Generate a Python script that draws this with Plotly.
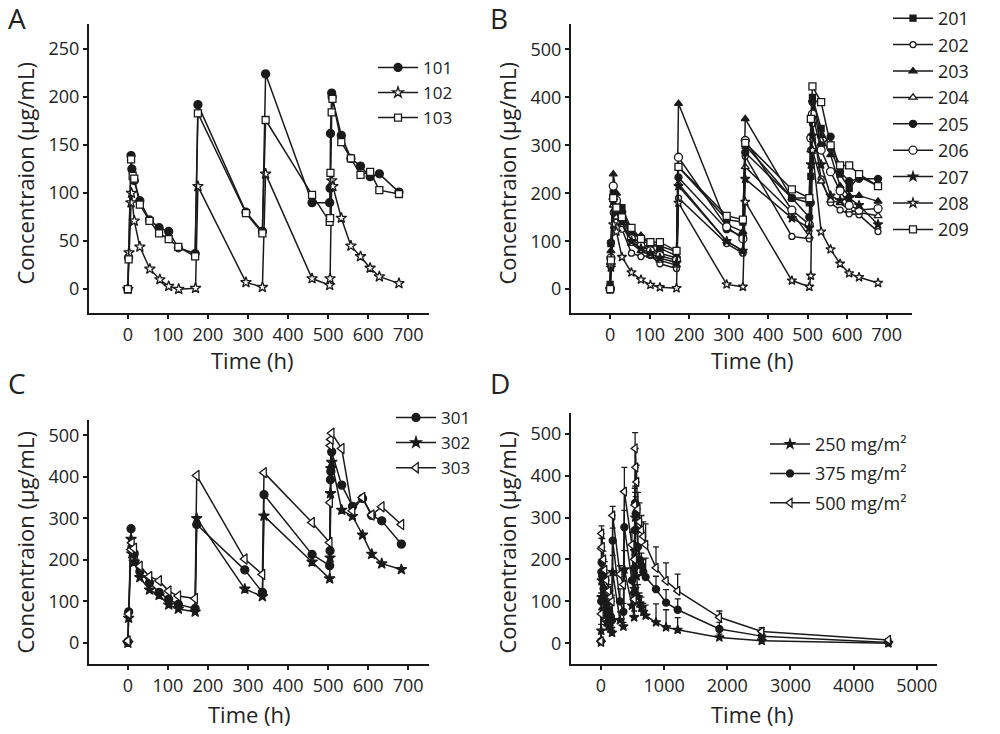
import plotly.graph_objects as go

# ---------------- Panel A ----------------
t101 = [0, 2, 8, 10, 16, 30, 54, 78, 102, 126, 168, 175, 295, 336, 344, 460, 504, 505, 506, 509, 510, 533, 557, 581, 605, 628, 677]
c101 = [0, 33, 139, 125, 113, 92, 72, 64, 60, 43, 37, 192, 80, 60, 224, 90, 90, 105, 162, 204, 200, 160, 136, 128, 117, 120, 101]
t102 = [0, 3, 8, 9, 16, 30, 55, 80, 102, 127, 169, 175, 295, 336, 344, 460, 504, 505, 509, 512, 533, 557, 581, 605, 628, 677]
c102 = [0, 38, 90, 100, 71, 44, 21, 10, 3, 0, 1, 107, 7, 2, 120, 11, 4, 11, 113, 107, 74, 45, 34, 22, 13, 6]
t103 = [0, 2, 8, 12, 16, 30, 54, 78, 102, 126, 168, 175, 295, 336, 344, 460, 504, 505, 506, 509, 511, 533, 557, 581, 605, 628, 677]
c103 = [0, 31, 135, 118, 115, 88, 71, 58, 52, 44, 34, 183, 79, 58, 176, 98, 70, 74, 121, 184, 198, 153, 136, 119, 122, 103, 99]

# ---------------- Panel B ----------------
tB = [0, 2, 8, 16, 30, 54, 78, 102, 126, 168, 173, 295, 336, 342, 460, 504, 508, 512, 534, 558, 582, 605, 630, 678]
c201 = [10, 95, 200, 180, 170, 125, 100, 95, 90, 78, 255, 145, 140, 300, 190, 180, 235, 400, 335, 295, 240, 210, 235, 215]
c202 = [0, 50, 160, 140, 125, 75, 68, 70, 53, 43, 190, 95, 75, 277, 110, 105, 290, 345, 230, 180, 165, 157, 155, 120]
c203 = [5, 80, 240, 200, 165, 115, 112, 95, 85, 70, 387, 135, 120, 355, 190, 190, 320, 395, 320, 280, 215, 195, 195, 183]
c204 = [0, 55, 175, 150, 135, 95, 80, 70, 60, 50, 220, 100, 80, 255, 160, 110, 290, 290, 225, 185, 180, 165, 160, 153]
c205 = [5, 97, 195, 180, 160, 110, 95, 85, 75, 65, 233, 125, 110, 285, 190, 150, 180, 390, 300, 318, 245, 225, 230, 230]
c206 = [0, 65, 215, 185, 150, 105, 90, 80, 70, 60, 275, 130, 105, 310, 165, 135, 315, 365, 290, 245, 205, 175, 165, 168]
c207 = [0, 45, 185, 160, 140, 100, 85, 75, 65, 55, 215, 100, 80, 230, 148, 128, 260, 320, 260, 195, 185, 190, 175, 135]
c208 = [0, 50, 135, 120, 67, 35, 20, 9, 4, 2, 180, 10, 5, 182, 18, 5, 28, 290, 120, 83, 53, 33, 25, 13]
c209 = [0, 60, 190, 170, 150, 128, 105, 98, 98, 80, 255, 153, 145, 305, 208, 190, 355, 423, 390, 300, 258, 258, 240, 215]

# ---------------- Panel C ----------------
tC = [0, 2, 8, 10, 16, 30, 54, 78, 102, 126, 168, 172, 292, 336, 340, 460, 504, 505, 506, 507, 509, 534, 561, 586, 609, 634, 683]
c301 = [3, 75, 275, 230, 215, 172, 145, 122, 105, 93, 83, 285, 176, 122, 357, 213, 186, 222, 393, 413, 460, 380, 329, 348, 307, 294, 238]
c302 = [0, 60, 250, 215, 195, 158, 128, 115, 92, 82, 75, 300, 130, 112, 306, 195, 155, 205, 360, 420, 435, 320, 305, 260, 214, 191, 177]
c303 = [5, 70, 225, 241, 228, 185, 160, 150, 125, 113, 107, 403, 202, 165, 410, 290, 242, 338, 475, 490, 505, 468, 318, 350, 308, 328, 285]

# ---------------- Panel D ----------------
tD = [0, 3, 6, 9, 20, 40, 60, 90, 120, 150, 175, 185, 300, 355, 370, 490, 525, 530, 535, 540, 550, 565, 585, 610, 640, 670, 707, 871, 1030, 1214, 1874, 2545, 4551]
m250 = [2, 30, 110, 150, 110, 80, 65, 50, 40, 35, 25, 170, 55, 40, 176, 90, 62, 130, 220, 300, 200, 160, 110, 95, 85, 75, 66, 50, 38, 32, 14, 6, 0]
e250 = [2, 15, 30, 40, 30, 20, 15, 12, 10, 8, 6, 40, 20, 10, 45, 30, 15, 40, 50, 60, 40, 35, 30, 25, 25, 20, 25, 44, 42, 29, 8, 8, 2]
m375 = [5, 100, 170, 193, 160, 130, 110, 95, 80, 65, 55, 245, 100, 75, 277, 150, 120, 180, 270, 335, 310, 270, 230, 200, 185, 170, 158, 129, 97, 80, 34, 17, 2]
e375 = [2, 20, 30, 30, 25, 20, 18, 15, 12, 10, 10, 30, 30, 20, 40, 30, 20, 30, 40, 40, 40, 35, 35, 35, 30, 30, 45, 31, 31, 26, 16, 16, 2]
m500 = [5, 70, 226, 262, 230, 200, 175, 150, 125, 110, 100, 305, 165, 140, 362, 235, 105, 200, 330, 465, 420, 385, 320, 290, 270, 255, 235, 180, 149, 125, 62, 28, 8]
e500 = [3, 10, 25, 18, 20, 20, 20, 18, 15, 15, 15, 22, 20, 20, 58, 30, 20, 30, 40, 38, 45, 40, 40, 45, 35, 35, 50, 50, 43, 40, 15, 9, 3]

INK = "#1a1a1a"
FONT = "Open Sans"

fig = go.Figure()


def add(name, x, y, sym, filled, axis, leg, size=8, err=None, group=False):
    xa, ya = axis
    tr = dict(
        x=x, y=y, name=name, mode="lines+markers",
        xaxis=xa, yaxis=ya, legend=leg,
        line=dict(color=INK, width=1.5),
        marker=dict(symbol=sym, size=size,
                    color=INK if filled else "white",
                    line=dict(color=INK, width=1.3)),
    )
    if group:
        tr["legendgroup"] = name
    if err is not None:
        tr["error_y"] = dict(type="data", symmetric=False, array=err,
                             arrayminus=[0] * len(err), color=INK,
                             thickness=1.3, width=3)
    fig.add_trace(go.Scatter(**tr))


A = ("x", "y")
B = ("x2", "y2")
C = ("x3", "y3")
D = ("x4", "y4")

add("101", t101, c101, "circle", True, A, "legend")
add("102", t102, c102, "star", False, A, "legend")
add("103", t103, c103, "square", False, A, "legend", size=7)

add("201", tB, c201, "square", True, B, "legend2", size=6, group=True)
add("202", tB, c202, "circle", False, B, "legend2", size=6, group=True)
add("203", tB, c203, "triangle-up", True, B, "legend2", size=7, group=True)
add("204", tB, c204, "triangle-up", False, B, "legend2", size=7, group=True)
add("205", tB, c205, "circle", True, B, "legend2", size=7, group=True)
add("206", tB, c206, "circle", False, B, "legend2", size=8, group=True)
add("207", tB, c207, "star", True, B, "legend2", size=7, group=True)
add("208", tB, c208, "star", False, B, "legend2", size=7, group=True)
add("209", tB, c209, "square", False, B, "legend2", size=7, group=True)

add("301", tC, c301, "circle", True, C, "legend3")
add("302", tC, c302, "star", True, C, "legend3")
add("303", tC, c303, "triangle-left", False, C, "legend3", size=9)

add("250 mg/m²", tD, m250, "star", True, D, "legend4", size=7, err=e250, group=True)
add("375 mg/m²", tD, m375, "circle", True, D, "legend4", size=7, err=e375, group=True)
add("500 mg/m²", tD, m500, "triangle-left", False, D, "legend4", size=8, err=e500, group=True)

H = 734.0


def ydom(top_px, bottom_px):
    return [1 - bottom_px / H, 1 - top_px / H]


axis_common = dict(showline=True, linecolor=INK, linewidth=2, ticks="outside",
                   ticklen=4, tickwidth=1.5, tickcolor=INK, showgrid=False,
                   zeroline=False, tickfont=dict(family=FONT, size=18, color="#222"))

fig.update_layout(
    width=1000, height=734,
    margin=dict(l=0, r=0, t=0, b=0),
    paper_bgcolor="white", plot_bgcolor="white",
    font=dict(family=FONT, color="#222"),
    xaxis=dict(domain=[0.089, 0.429], range=[-97, 752], tickvals=[0, 100, 200, 300, 400, 500, 600, 700], anchor="y", **axis_common),
    yaxis=dict(domain=ydom(22, 312), range=[-25, 276], tickvals=[0, 50, 100, 150, 200, 250], anchor="x", **axis_common),
    xaxis2=dict(domain=[0.571, 0.912], range=[-99, 764], tickvals=[0, 100, 200, 300, 400, 500, 600, 700], anchor="y2", **axis_common),
    yaxis2=dict(domain=ydom(22, 312), range=[-50, 553], tickvals=[0, 100, 200, 300, 400, 500], anchor="x2", **axis_common),
    xaxis3=dict(domain=[0.089, 0.429], range=[-97, 752], tickvals=[0, 100, 200, 300, 400, 500, 600, 700], anchor="y3", **axis_common),
    yaxis3=dict(domain=ydom(419, 664), range=[-51, 537], tickvals=[0, 100, 200, 300, 400, 500], anchor="x3", **axis_common),
    xaxis4=dict(domain=[0.571, 0.937], range=[-475, 5320], tickvals=[0, 1000, 2000, 3000, 4000, 5000], anchor="y4", **axis_common),
    yaxis4=dict(domain=ydom(412, 664), range=[-50, 550], tickvals=[0, 100, 200, 300, 400, 500], anchor="x4", **axis_common),
    showlegend=True,
)

leg_common = dict(bgcolor="rgba(0,0,0,0)", xanchor="left", yanchor="top", itemwidth=40)
f17 = dict(family=FONT, size=17, color="#222")
f18 = dict(family=FONT, size=18, color="#222")
fig.update_layout(
    legend=dict(x=0.373, y=1 - 48 / H, tracegroupgap=0, font=f17, **leg_common),
    legend2=dict(x=0.888, y=1 + 2 / H, tracegroupgap=0, font=f18, **leg_common),
    legend3=dict(x=0.391, y=1 - 399 / H, tracegroupgap=0, font=f17, **leg_common),
    legend4=dict(x=0.765, y=1 - 425 / H, tracegroupgap=3, font=f18, **leg_common),
)

anns = []
for txt, x, y in [("A", 6, -5), ("B", 488, -5), ("C", 6, 361), ("D", 488, 361)]:
    anns.append(dict(text=txt, x=x / 1000, y=1 - y / H, xref="paper", yref="paper",
                     xanchor="left", yanchor="top", showarrow=False,
                     font=dict(family=FONT, size=28, color="#222")))
for x, y in [(252, 359), (752, 359), (249, 714), (752, 714)]:
    anns.append(dict(text="Time (h)", x=x / 1000, y=1 - y / H, xref="paper", yref="paper",
                     xanchor="center", yanchor="middle", showarrow=False, borderpad=0,
                     font=dict(family=FONT, size=22, color="#222")))
for x, y in [(25, 172), (507, 172), (25, 542), (507, 542)]:
    anns.append(dict(text="Concentraion (μg/mL)", x=x / 1000, y=1 - y / H, xref="paper", yref="paper",
                     xanchor="center", yanchor="middle", showarrow=False, textangle=-90,
                     font=dict(family=FONT, size=22, color="#222")))
fig.update_layout(annotations=anns)

fig.write_html("out.html", config={"displayModeBar": False},
               post_script="document.body.style.margin='0';")
